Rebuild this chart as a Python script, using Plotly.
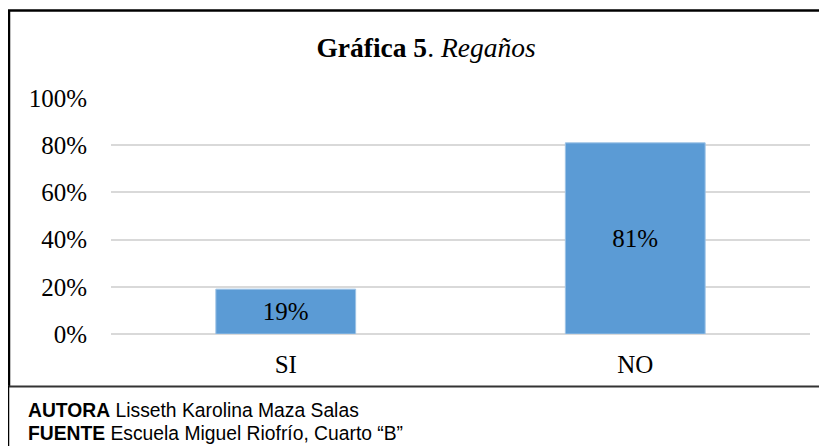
import plotly.graph_objects as go

categories = ["SI", "NO"]
values = [0.19, 0.81]
value_labels = ["19%", "81%"]
tick_vals = [0, 0.2, 0.4, 0.6, 0.8, 1.0]
tick_text = ["0%", "20%", "40%", "60%", "80%", "100%"]

# page has an 8px body margin, so figure coords = page coords - 8
OFF = 8
W, H = 827 - OFF, 446 - OFF
L, R, T, B = 111 - OFF, 810 - OFF, 98 - OFF, 334 - OFF

def px(x):
    return (x - OFF - L) / (R - L)

def py(y):
    return (B - (y - OFF)) / (B - T)

serif = "Liberation Serif"

fig = go.Figure()
fig.add_trace(go.Bar(
    x=categories, y=values,
    text=value_labels, textposition="inside", insidetextanchor="middle",
    textfont=dict(family=serif, size=25, color="#000000"),
    insidetextfont=dict(family=serif, size=25, color="#000000"),
    marker=dict(color="#5B9BD5", line=dict(color="#9DC3E6", width=1)),
    cliponaxis=False,
))

fig.update_layout(
    width=W, height=H,
    margin=dict(l=L, r=W - R, t=T, b=H - B),
    paper_bgcolor="white", plot_bgcolor="white",
    bargap=0.6,
    showlegend=False,
    font=dict(family=serif, size=25, color="#000000"),
    title=dict(
        text="<b>Gráfica 5</b>. <i>Regaños</i>",
        font=dict(family=serif, size=27.5, color="#000000"),
        x=(426 - OFF) / W, xanchor="center", xref="container",
        y=1 - (47 - OFF) / H, yanchor="middle", yref="container",
    ),
    xaxis=dict(
        showgrid=False, showline=False, zeroline=False,
        tickfont=dict(family=serif, size=25, color="#000000"),
        ticklabelstandoff=13,
    ),
    yaxis=dict(
        range=[0, 1], tickvals=tick_vals, ticktext=tick_text,
        showgrid=True, gridcolor="#D9D9D9", gridwidth=1.5,
        zeroline=True, zerolinecolor="#D9D9D9", zerolinewidth=1.5,
        showline=False,
        tickfont=dict(family=serif, size=25, color="#000000"),
        ticklabelstandoff=23,
    ),
)

shapes = [
    dict(x0=px(7), x1=px(830), y0=py(10.5), y1=py(10.5), color="#000000", w=2.5),
    dict(x0=px(9), x1=px(9), y0=py(10), y1=py(386), color="#000000", w=2.5),
    dict(x0=px(7), x1=px(830), y0=py(386.5), y1=py(386.5), color="#333333", w=2),
    dict(x0=px(8.5), x1=px(8.5), y0=py(386), y1=py(450), color="#000000", w=1.5),
]
for s in shapes:
    fig.add_shape(type="line", xref="paper", yref="paper",
                  x0=s["x0"], x1=s["x1"], y0=s["y0"], y1=s["y1"],
                  line=dict(color=s["color"], width=s["w"]))

footer = [
    ("AUTORA", "Lisseth Karolina Maza Salas", 410),
    ("FUENTE", "Escuela Miguel Riofrío, Cuarto “B”", 433.5),
]
for bold, rest, yc in footer:
    fig.add_annotation(
        xref="paper", yref="paper", x=px(26), y=py(yc),
        xanchor="left", yanchor="middle", showarrow=False,
        text=f"<b>{bold}</b> {rest}",
        font=dict(family="Liberation Sans", size=19.3, color="#000000"),
    )

fig.write_html("out.html")
